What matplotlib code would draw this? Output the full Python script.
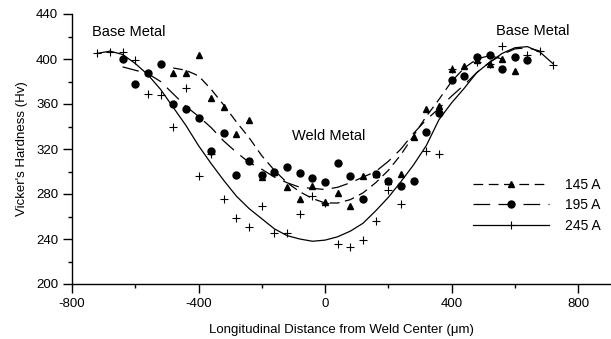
import numpy as np
import matplotlib
matplotlib.use("Agg")
import matplotlib.pyplot as plt
from matplotlib.ticker import MultipleLocator

plt.rcParams["font.family"] = ["Liberation Sans", "DejaVu Sans"]
plt.rcParams["lines.scale_dashes"] = False
plt.rcParams["axes.unicode_minus"] = False

# measured hardness, 145 A (triangles)
x_145 = [-480, -440, -400, -360, -320, -280, -240, -200, -160, -120, -80, -40, 0,
         40, 80, 120, 160, 200, 240, 280, 320, 360, 400, 440, 480, 520, 560, 600]
hv_145 = [388, 388, 404, 365, 357, 333, 346, 295, 300, 286, 276, 287, 273,
          281, 269, 296, 298, 292, 298, 331, 356, 358, 391, 394, 399, 396, 400, 389]

# measured hardness, 195 A (circles)
x_195 = [-640, -600, -560, -520, -480, -440, -400, -360, -320, -280, -240, -200, -160,
         -120, -80, -40, 0, 40, 80, 120, 160, 200, 240, 280, 320, 360, 400, 440,
         480, 520, 560, 600, 640]
hv_195 = [400, 378, 388, 396, 360, 356, 348, 318, 334, 297, 309, 297, 300,
          304, 299, 294, 291, 308, 296, 276, 298, 292, 287, 292, 335, 352, 381, 385,
          402, 404, 391, 402, 399]

# measured hardness, 245 A (crosses)
x_245 = [-720, -680, -640, -600, -560, -520, -480, -440, -400, -360, -320, -280, -240,
         -200, -160, -120, -80, -40, 0, 40, 80, 120, 160, 200, 240, 320, 360, 400,
         480, 520, 560, 640, 680, 720]
hv_245 = [405, 406, 406, 399, 369, 368, 340, 374, 296, 316, 276, 259, 251,
          269, 245, 245, 262, 278, 272, 236, 233, 239, 256, 284, 271, 318, 316, 391,
          397, 396, 412, 404, 407, 395]

# fitted trend lines
fx_145 = [-480, -440, -400, -360, -320, -280, -240, -200, -160, -120, -80, -40, 0,
          40, 80, 120, 160, 200, 240, 280, 320, 360, 400, 440, 480, 520, 560]
fy_145 = [392, 390, 385, 373, 359, 344, 330, 314, 301, 290, 282, 276, 272,
          272, 275, 281, 290, 301, 315, 332, 349, 364, 380, 392, 400, 403, 400]

fx_195 = [-640, -600, -560, -520, -480, -440, -400, -360, -320, -280, -240, -200, -160,
          -120, -80, -40, 0, 40, 80, 120, 160, 200, 240, 280, 320, 360, 400, 440,
          480, 520, 560, 600, 640, 680]
fy_195 = [393, 390, 387, 380, 369, 358, 349, 339, 327, 317, 308, 302, 295,
          290, 286, 285, 284, 286, 290, 295, 300, 309, 320, 334, 346, 356, 367, 377,
          388, 397, 404, 409, 410, 407]

fx_245 = [-720, -680, -640, -600, -560, -520, -480, -440, -400, -360, -320, -280, -240,
          -200, -160, -120, -80, -40, 0, 40, 80, 120, 160, 200, 240, 280, 320, 360,
          400, 440, 480, 520, 560, 600, 640, 680, 720]
fy_245 = [405, 407, 404, 396, 386, 373, 357, 341, 323, 307, 292, 278, 267,
          258, 249, 243, 240, 238, 239, 242, 247, 254, 265, 277, 291, 306, 323, 346,
          361, 374, 388, 397, 405, 410, 411, 406, 396]

fig = plt.figure(figsize=(6.11, 3.39), dpi=100)
ax = fig.add_axes([72 / 611, 55 / 339, 539 / 611, 270 / 339])

ax.plot(fx_145, fy_145, color="black", lw=0.9, dashes=(7, 4))
ax.plot(fx_195, fy_195, color="black", lw=0.9, dashes=(12, 6))
ax.plot(fx_245, fy_245, color="black", lw=0.9)

ax.plot(x_145, hv_145, ls="none", marker="^", ms=5, color="black")
ax.plot(x_195, hv_195, ls="none", marker="o", ms=5, color="black")
ax.plot(x_245, hv_245, ls="none", marker="+", ms=6, mew=0.8, color="black")

# legend handles (line + marker)
h1, = ax.plot([], [], color="black", lw=0.9, dashes=(7, 4), marker="^", ms=5)
h2, = ax.plot([], [], color="black", lw=0.9, dashes=(12, 6), marker="o", ms=5)
h3, = ax.plot([], [], color="black", lw=0.9, marker="+", ms=6, mew=0.8)
ax.legend([h1, h2, h3], ["145 A", "195 A", "245 A"], loc="upper left",
          bbox_to_anchor=(473 / 611, 1 - 178 / 339), bbox_transform=fig.transFigure,
          frameon=False, fontsize=10, numpoints=1, handlelength=5.5,
          handletextpad=1.15, labelspacing=0.45, borderpad=0, borderaxespad=0)

ax.text(-736, 424, "Base Metal", fontsize=10.5, va="center", ha="left")
ax.text(540, 424.5, "Base Metal", fontsize=10.5, va="center", ha="left")
ax.text(-105, 331.5, "Weld Metal", fontsize=10.5, va="center", ha="left")

ax.set_xlim(-800, 904)
ax.set_ylim(200, 440)
ax.xaxis.set_major_locator(MultipleLocator(400))
ax.xaxis.set_minor_locator(MultipleLocator(200))
ax.yaxis.set_major_locator(MultipleLocator(40))
ax.yaxis.set_minor_locator(MultipleLocator(20))
ax.tick_params(which="major", direction="out", length=6.5, width=1, labelsize=9.5, color="black")
ax.tick_params(which="minor", direction="out", length=3.2, width=1)
ax.spines["top"].set_visible(False)
ax.spines["right"].set_visible(False)
ax.spines["left"].set_linewidth(1)
ax.spines["bottom"].set_linewidth(1)

ax.set_xlabel("Longitudinal Distance from Weld Center (\u03bcm)", fontsize=9.5, labelpad=10)
ax.set_ylabel("Vicker's Hardness (Hv)", fontsize=9.5, labelpad=6)

fig.savefig("out.png", dpi=100)
